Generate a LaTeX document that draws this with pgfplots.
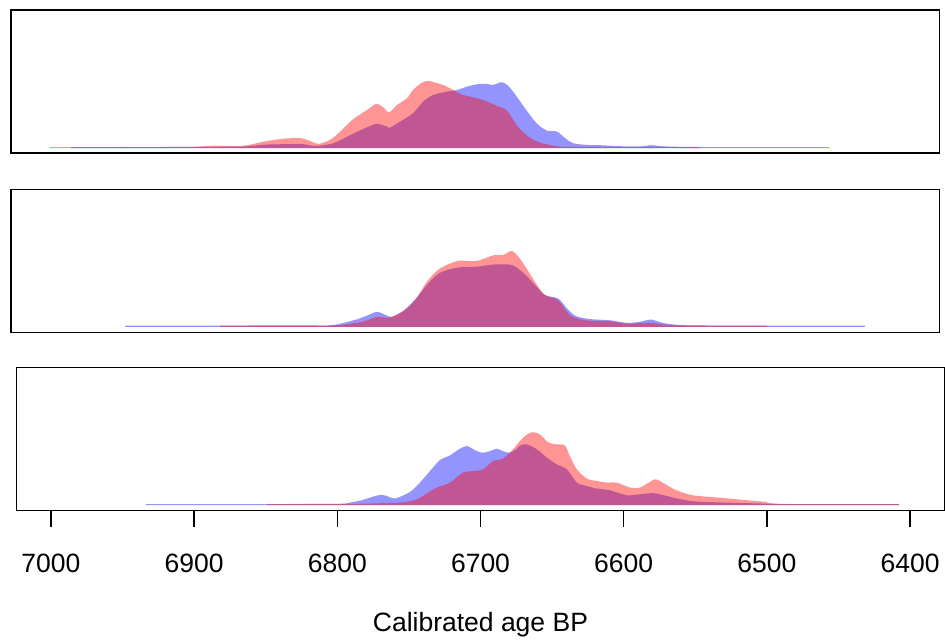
\documentclass[border=0pt]{standalone}
\usepackage{fontspec}
\setmainfont{Liberation Sans}
\usepackage{pgfplots}
\pgfplotsset{compat=1.18}

\pgfplotsset{
  density/.style={
    scale only axis, width=464.15pt, height=71.6pt,
    xmin=6375.9, xmax=7024.2, x dir=reverse,
    ytick=\empty, xtick=\empty,
    axis line style={line width=0.75pt},
    clip=true,
  },
  blu/.style={draw=none, fill=blue, fill opacity=0.42, smooth, tension=0.5},
  rd/.style={draw=none, fill=red, fill opacity=0.42, smooth, tension=0.5},
}

\begin{document}
\begin{tikzpicture}
% --- panel 1
\begin{axis}[density, at={(5.5pt,-5pt)}, anchor=north west, ymin=-5, ymax=138.3]
\addplot[blu] coordinates {
(6982.2,1.2) (6920,1.2) (6884,1.4) (6860,1.8) (6847,3.5) (6834,4) (6820,4) (6815,2.7)
(6810,2.3) (6799,5) (6787,13.3) (6775.5,21) (6768.5,24.3) (6761.5,21.6) (6759.4,20.6)
(6752.4,26.6) (6743.4,35) (6736.4,46.6) (6729.4,53.3) (6719.6,56.6) (6712.6,58.3)
(6705.7,61.6) (6698.7,64) (6691.7,64.3) (6687.5,63.3) (6681.8,66) (6677.6,63.3)
(6672.7,55) (6664.4,38.3) (6657.2,25) (6649.9,17.6) (6642.8,16.6) (6637.2,10)
(6631.6,5) (6621.9,3.3) (6612.8,3) (6598.8,2) (6585,1.8) (6577.2,3) (6567.4,1.8)
(6545,1.2) (6500,1.2) (6452.9,1.2)
} \closedcycle;
\addplot[rd] coordinates {
(6996.9,1.2) (6950,1.2) (6900,1.3) (6884,2.5) (6863,2.3) (6847,6.7) (6834,9.5)
(6822.3,10) (6815.3,7.3) (6809.7,4.3) (6801.3,8.3) (6794.4,16.6) (6785.3,29)
(6775.5,38.3) (6769.2,44.3) (6764.3,41) (6760.1,36) (6754.5,43.3) (6747.6,50)
(6743.4,58.3) (6737.1,65.6) (6732.9,67.3) (6728.0,65.6) (6722.4,63.3) (6715.4,58.3)
(6708.5,53.3) (6698.7,50) (6691.7,46.6) (6684.7,42.3) (6678.3,38.3) (6674.1,30)
(6669.3,20) (6662.3,11) (6654.7,5.6) (6645.6,2.6) (6635.8,1.4) (6600,1.2) (6543,1.2)
} \closedcycle;
\end{axis}
% --- panel 2
\begin{axis}[density, at={(5.5pt,-94.65pt)}, anchor=north west, ymin=-5.6, ymax=137.4]
\addplot[blu] coordinates {
(6944.5,1.2) (6880,1.2) (6846.7,1.5) (6813.2,1.5) (6804.8,1.2) (6795.8,2.7)
(6783.2,7.3) (6774.8,11.7) (6768.5,15) (6762.2,11.7) (6758.0,10) (6749.7,16.7)
(6741.3,28.3) (6732.9,43.3) (6724.6,54) (6712.0,59.3) (6699.4,60) (6686.8,62.3)
(6674.3,61.7) (6665.9,53.3) (6657.5,40.7) (6651.2,31.7) (6642.1,28.3) (6635.8,18.3)
(6629.5,10.7) (6619.1,7.7) (6606.5,6.7) (6593.9,4) (6585.5,5) (6577.2,7.3)
(6568.8,4) (6556.2,1.8) (6526.9,1.3) (6484.3,1.2) (6427.7,1.2)
} \closedcycle;
\addplot[rd] coordinates {
(6878.1,1.2) (6846.7,1.3) (6813.2,1.3) (6795.8,1.8) (6779.0,5) (6768.5,10) (6760.1,9.3)
(6749.7,16) (6741.3,28.3) (6732.9,46.7) (6724.6,58.3) (6712.0,66) (6699.4,65.7)
(6686.8,71.7) (6680.6,71.7) (6674.3,75.7) (6668.0,66.7) (6657.5,43.3) (6651.2,31.7)
(6642.1,26.7) (6633.7,11.7) (6623.3,6.7) (6606.5,5.7) (6593.9,3.3) (6577.2,4)
(6564.6,1.8) (6526.9,1.3) (6496.2,1.2)
} \closedcycle;
\end{axis}
% --- panel 3
\begin{axis}[density, at={(8.15pt,-183.65pt)}, anchor=north west, ymin=-5.3, ymax=138.4,
  xtick={6400,6500,...,7000}, tick align=outside, major tick length=8.15pt,
  xtick pos=bottom, tick style={line width=0.7pt, black},
  /pgf/number format/assume math mode=true,
  xticklabel={\pgfmathprintnumber[fixed,1000 sep={}]{\tick}},
  xticklabel style={font=\fontsize{13.25}{15}\selectfont, anchor=base, yshift=-22.9pt},
  xlabel={Calibrated age BP},
  xlabel style={font=\fontsize{13.25}{15}\selectfont, at={(axis description cs:0.5,0)}, anchor=base, yshift=-60.35pt},
]
\addplot[blu] coordinates {
(6933.7,1.2) (6850,1.2) (6800,1.4) (6791.2,2.7) (6782.8,5) (6779.3,6.7) (6770.3,10.3)
(6765.4,9.3) (6759.8,6.7) (6749.3,13.3) (6742.3,22.7) (6735.3,34.3) (6728.4,45.3)
(6721.4,50) (6714.4,56.7) (6709.5,59.3) (6703.9,55.3) (6699.0,52.7) (6693.4,54.3)
(6688.6,56.7) (6684.4,54.3) (6679.5,52.7) (6674.6,56.7) (6672.5,60) (6667.6,61)
(6660.6,56) (6653.6,47.7) (6646.7,41) (6639.7,36) (6632.7,22.7) (6625.7,19.3)
(6618.7,16.7) (6609.6,15) (6597.8,10) (6588.7,11) (6581.7,12) (6576.8,11.7)
(6564.3,7.3) (6551.7,4) (6530.7,2.7) (6505.6,1.8) (6488.1,1.2) (6407.8,1.2)
} \closedcycle;
\addplot[rd] coordinates {
(6849.2,1.2) (6800,1.3) (6791.2,1.3) (6756.3,2.7) (6744.4,6) (6737.4,12) (6730.5,17.7)
(6721.4,22.7) (6712.3,32.7) (6705.3,34.3) (6698.3,36) (6691.3,44.3) (6684.4,46.7)
(6677.4,56) (6672.5,64.3) (6667.6,71) (6663.4,73.3) (6658.5,71) (6652.9,63.3)
(6646.7,61) (6641.1,60) (6637.6,49.3) (6632.7,36) (6625.7,26.7) (6618.7,24.3)
(6611.7,22.7) (6604.8,22.7) (6595.7,17.7) (6588.7,17.7) (6581.7,23.3) (6576.8,25.7)
(6564.3,15.7) (6551.7,10) (6530.7,7.3) (6514.0,5) (6500.7,3.3) (6488.1,1.3) (6407.8,1.2)
} \closedcycle;
\end{axis}
\pgfresetboundingbox
\useasboundingbox (0,0) rectangle (472.5pt,-320.5pt);
\end{tikzpicture}
\end{document}
